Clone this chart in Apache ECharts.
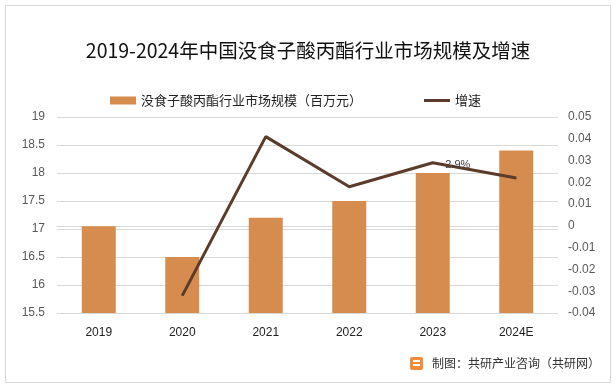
<!DOCTYPE html>
<html><head><meta charset="utf-8">
<script src="https://cdn.jsdelivr.net/npm/echarts@6/dist/echarts.min.js"></script>
<style>html,body{margin:0;padding:0;background:#fff}#c{width:616px;height:388px}</style>
</head><body><div id="c"></div>
<script>
var categories = ['2019','2020','2021','2022','2023','2024E'];
var marketSize = [17.05, 16.5, 17.2, 17.5, 18.0, 18.4];
var growth = [null, -0.032, 0.041, 0.018, 0.029, 0.022];
var leftTicks = [15.5, 19, 0.5];
var rightTicks = [-0.04, 0.05, 0.01];
var chart = echarts.init(document.getElementById('c'));
var font = "'Microsoft YaHei','Noto Sans CJK SC',sans-serif";
chart.setOption({
  animation: false,
  graphic: [
    {type:'rect', shape:{x:5.5,y:5.5,width:605,height:377}, style:{fill:'none', stroke:'#d9d9d9', lineWidth:1}},
    {type:'group', left:410, top:357, children:[
      {type:'rect', shape:{x:0,y:0,width:13,height:13,r:2}, style:{fill:'#f28c3a'}},
      {type:'rect', shape:{x:3,y:3,width:7,height:2}, style:{fill:'#fff'}},
      {type:'rect', shape:{x:3,y:7,width:7,height:2}, style:{fill:'#fff'}},
      {type:'text', x:22, y:0, style:{text:'制图：共研产业咨询（共研网）', font:"12px 'Noto Sans CJK SC',sans-serif", fill:'#333'}}
    ]}
  ],
  title: {text:'2019-2024年中国没食子酸丙酯行业市场规模及增速', left:'center', top:36,
    textStyle:{fontSize:19.5, fontWeight:'normal', color:'#111', fontFamily:font}},
  legend: {top:89, left:105, itemGap:62, itemWidth:26, itemHeight:8,
    textStyle:{fontSize:13, color:'#222', fontFamily:font},
    data:[{name:'没食子酸丙酯行业市场规模（百万元）', icon:'rect'},
      {name:'增速', icon:'path://M0,0 L0.01,0 L0.01,0.01 Z M0,2.6 L26,2.6 L26,5.4 L0,5.4 Z M26,8 L25.99,8 L25.99,7.99 Z'}]},
  grid: {left:57, right:58, top:117, bottom:75},
  xAxis: {type:'category', data:categories, axisTick:{show:false},
    axisLine:{lineStyle:{color:'#d9d9d9'}},
    axisLabel:{color:'#222', fontSize:12, margin:14}},
  yAxis: [
    {type:'value', min:leftTicks[0], max:leftTicks[1], interval:leftTicks[2],
      axisLine:{show:false}, axisTick:{show:false},
      splitLine:{lineStyle:{color:'#d9d9d9'}},
      axisLabel:{color:'#595959', fontSize:12, margin:12}},
    {type:'value', min:rightTicks[0], max:rightTicks[1], interval:rightTicks[2],
      axisLine:{show:false}, axisTick:{show:false}, splitLine:{show:false},
      axisLabel:{color:'#595959', fontSize:12, margin:10, align:'left',
        formatter:function(v){return String(Math.round(v*100)/100);}}}
  ],
  series: [
    {name:'没食子酸丙酯行业市场规模（百万元）', type:'bar', data:marketSize, barWidth:34,
      itemStyle:{color:'#d58c4e'}},
    {name:'增速', type:'line', yAxisIndex:1, data:growth, symbol:'circle', symbolSize:1, showSymbol:true,
      lineStyle:{color:'#5b3b29', width:3}, itemStyle:{color:'#5b3b29'},
      label:{show:true, position:'right', offset:[7,2], fontSize:11, color:'#404040',
        formatter:function(p){return p.dataIndex===4 ? (p.value*100).toFixed(1)+'%' : '';}}}
  ]
});
</script></body></html>
